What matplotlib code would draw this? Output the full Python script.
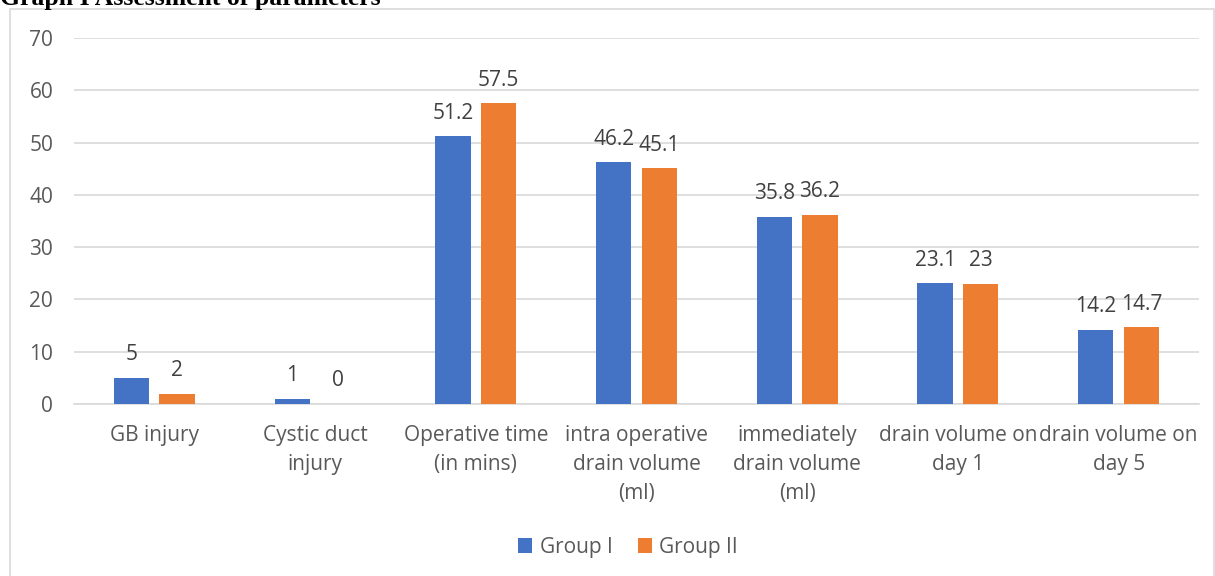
import matplotlib
matplotlib.use("Agg")
import matplotlib.pyplot as plt
from matplotlib.patches import Rectangle
import numpy as np

categories = ["GB injury", "Cystic duct\ninjury", "Operative time\n(in mins)",
              "intra operative\ndrain volume\n(ml)", "immediately\ndrain volume\n(ml)",
              "drain volume on\nday 1", "drain volume on\nday 5"]
group1 = [5, 1, 51.2, 46.2, 35.8, 23.1, 14.2]
group2 = [2, 0, 57.5, 45.1, 36.2, 23, 14.7]
labels1 = ["5", "1", "51.2", "46.2", "35.8", "23.1", "14.2"]
labels2 = ["2", "0", "57.5", "45.1", "36.2", "23", "14.7"]
series_names = ["Group I", "Group II"]
yticks = [0, 10, 20, 30, 40, 50, 60, 70]

plt.rcParams['font.family'] = ['Open Sans', 'DejaVu Sans']
FS = 15
fig = plt.figure(figsize=(12.15, 5.76), dpi=100)
ax = fig.add_axes([74/1215, 1-404/576, 1125/1215, 366/576])

x = np.arange(len(categories))
w = 0.22
off = 0.142
c1, c2 = "#4472C4", "#ED7D31"
b1 = ax.bar(x - off, group1, w, color=c1, label=series_names[0], zorder=3)
b2 = ax.bar(x + off, group2, w, color=c2, label=series_names[1], zorder=3)
for bars, labs in ((b1, labels1), (b2, labels2)):
    for b, l in zip(bars, labs):
        ax.annotate(l, (b.get_x() + b.get_width()/2, b.get_height()),
                    xytext=(0, 9), textcoords="offset points", ha="center", va="bottom",
                    fontsize=FS, color="#404040")

ax.set_xlim(-0.5, len(categories) - 0.5)
ax.set_ylim(0, 70)
ax.set_yticks(yticks)
ax.set_xticks(x)
ax.set_xticklabels(categories, fontsize=FS, color="#595959", linespacing=1.5)
ax.tick_params(axis='y', labelsize=FS, labelcolor="#595959", length=0, pad=15)
ax.tick_params(axis='x', length=0, pad=15)
ax.grid(axis='y', color="#D9D9D9", linewidth=1.2, zorder=0)
for s in ["top", "right", "left"]:
    ax.spines[s].set_visible(False)
ax.spines["bottom"].set_color("#D9D9D9")
ax.spines["bottom"].set_linewidth(1.2)

leg = fig.legend(handles=[b1, b2], loc="center", bbox_to_anchor=(628/1215, 1-547/576),
                 ncol=2, frameon=False, fontsize=FS, handlelength=0.7, handleheight=0.7,
                 columnspacing=1.2, handletextpad=0.35)
for t in leg.get_texts():
    t.set_color("#595959")

fig.patches.append(Rectangle((10/1215, -0.01), 1204/1215, 1 - 9/576 + 0.01,
                             transform=fig.transFigure, fill=False,
                             edgecolor="#D9D9D9", linewidth=1.2))
fig.text(0/1215, 1 - 5/576, "Graph I Assessment of parameters", fontsize=18.5,
         fontweight="bold", family=["Liberation Serif"], va="baseline", ha="left")

fig.savefig("out.png", dpi=100)
